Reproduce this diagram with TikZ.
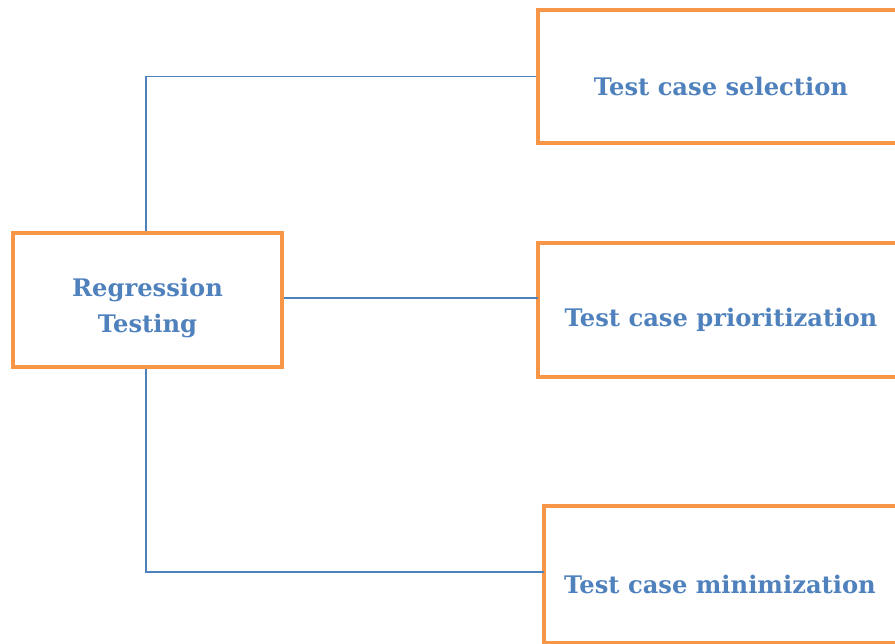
\documentclass[tikz,border=0pt]{standalone}
\usepackage{fontspec}
\setmainfont{DejaVu Serif}
\definecolor{txtblue}{HTML}{4F81BD}
\definecolor{boxorange}{HTML}{F79646}
\definecolor{lineblue}{HTML}{4F81BD}
\begin{document}
\begin{tikzpicture}[x=1pt,y=-1pt,
  box/.style={draw=boxorange,line width=3.5pt,rectangle,inner sep=0pt},
  lbl/.style={text=txtblue,font=\bfseries\fontsize{24.2}{36}\selectfont,align=center,inner sep=0pt},
  conn/.style={draw=lineblue,line width=1.8pt}]
\useasboundingbox (0,0) rectangle (895,644);
\clip (0,0) rectangle (895,644);
\node[box,minimum width=269pt,minimum height=134pt] (left) at (147.5,300) {};
\node[box,minimum width=372pt,minimum height=133pt] (top) at (724,76.5) {};
\node[box,minimum width=372pt,minimum height=134pt] (mid) at (724,310) {};
\node[box,minimum width=366pt,minimum height=137pt] (bot) at (727,574.5) {};
\node[lbl] (lefttxt) at (147.5,308) {Regression\\Testing};
\node[lbl] (toptxt) at (721,86) {Test case selection};
\node[lbl] (midtxt) at (721,320) {Test case prioritization};
\node[lbl] (bottxt) at (720,584) {Test case minimization};
\coordinate (midend) at (538,298);
\coordinate (botend) at (544,572);
\draw[conn] (left.north -| 146,0) |- (top.west);
\draw[conn] (left.east |- midend) -- (midend);
\draw[conn] (left.south -| 146,0) |- (botend);
\end{tikzpicture}
\end{document}
